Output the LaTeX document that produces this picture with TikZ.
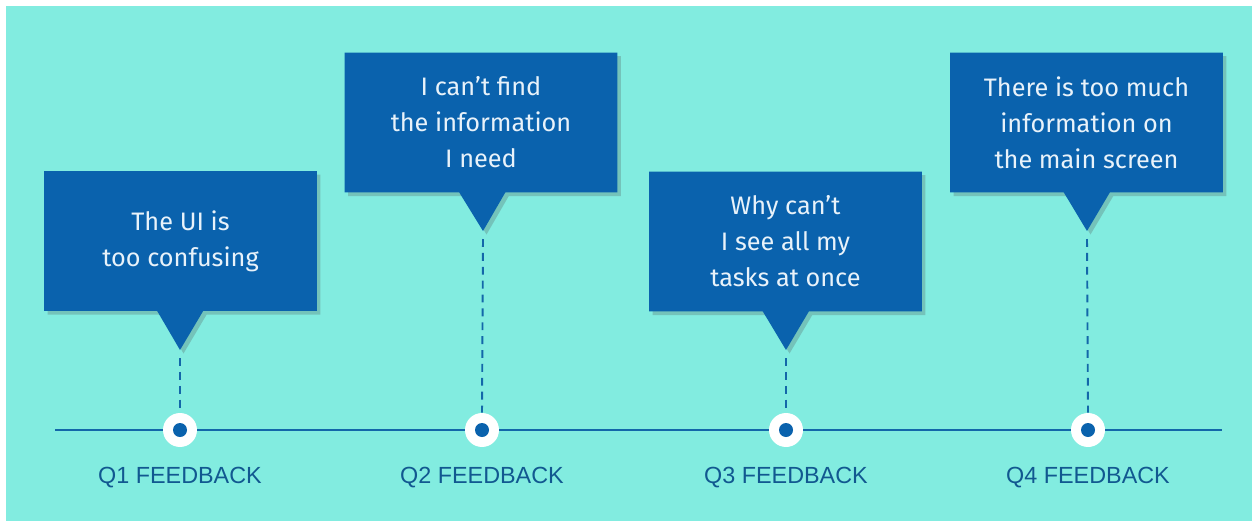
\documentclass[tikz,border=0pt]{standalone}
\usepackage{fontspec}
\setmainfont{Fira Sans}
\newfontfamily\labelfont{Liberation Sans}
\usetikzlibrary{shapes.callouts,shadows}

\definecolor{bgteal}{HTML}{82ECE0}
\definecolor{boxblue}{HTML}{0A62AD}
\definecolor{boxtext}{HTML}{E8F2FA}
\definecolor{lineblue}{HTML}{1367A9}
\definecolor{labelblue}{HTML}{115890}

\tikzset{
    bubble/.style={rectangle callout, fill=boxblue, text=boxtext, align=center,
        minimum width=5.46cm, minimum height=2.8cm, callout pointer width=0.92cm,
        font=\fontsize{14.4}{20.5}\selectfont,
        drop shadow={shadow xshift=2pt, shadow yshift=-2pt, opacity=0.25, fill=black!70}},
    ring/.style={circle, fill=white, minimum size=0.68cm, inner sep=0pt},
    qlabel/.style={text=labelblue, font=\labelfont\fontsize{13.3}{16}\selectfont},
    dashline/.style={lineblue, line width=1.1pt, dash pattern=on 4.5pt off 3.4pt}
}

\begin{document}
\begin{tikzpicture}[x=0.02cm, y=-0.02cm]
    \useasboundingbox (0,0) rectangle (1252,521);
    \fill[white] (0,0) rectangle (1252,521);
    \fill[bgteal] (6,6) rectangle (1260,530);
    % Tips of the bubbles.
        \coordinate (t1) at (180,350);
        \coordinate (t2) at (483,231);
        \coordinate (t3) at (786,350);
        \coordinate (t4) at (1087,231);
    % The timeline.
        \coordinate (lstart) at (55,430);
        \coordinate (lend) at (1222,430);
        \draw[lineblue, line width=1.7pt] (lstart) -- (lend);
    % Points on the timeline.
        \node[ring] (c1) at (180,430) {};
        \node[ring] (c2) at (482,430) {};
        \node[ring] (c3) at (786,430) {};
        \node[ring] (c4) at (1088,430) {};
        \foreach \c in {c1,c2,c3,c4}
            \fill[boxblue] (\c) circle (7);
    % Dashed drops from bubbles to points.
        \draw[dashline] (t1) ++(0,8) -- (c1.north);
        \draw[dashline] (t2) ++(0,8) -- (c2.north);
        \draw[dashline] (t3) ++(0,8) -- (c3.north);
        \draw[dashline] (t4) ++(0,8) -- (c4.north);
    % Below nodes are the bubbles.
        \node[bubble, callout absolute pointer={(t1)}] (b1) at (180.5,241) {The UI is\\too confusing};
        \node[bubble, callout absolute pointer={(t2)}] (b2) at (481,122.5) {I can’t find\\the information\\I need};
        \node[bubble, callout absolute pointer={(t3)}] (b3) at (785.5,241.5) {Why can’t\\I see all my\\tasks at once};
        \node[bubble, callout absolute pointer={(t4)}] (b4) at (1086.5,122.5) {There is too much\\information on\\the main screen};
    % Quarter labels.
        \node[qlabel] (q1) at (180,478) {Q1 FEEDBACK};
        \node[qlabel] (q2) at (482,478) {Q2 FEEDBACK};
        \node[qlabel] (q3) at (786,478) {Q3 FEEDBACK};
        \node[qlabel] (q4) at (1088,478) {Q4 FEEDBACK};
\end{tikzpicture}
\end{document}
